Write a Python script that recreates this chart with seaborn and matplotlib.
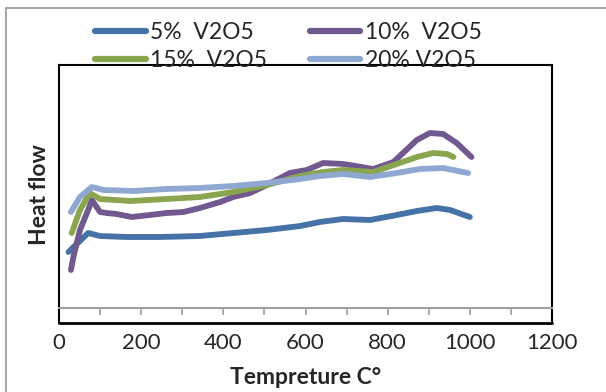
import pandas as pd
import seaborn as sns
import matplotlib.pyplot as plt
from matplotlib.lines import Line2D

# values (temperature in C, heat flow in arbitrary units)
t_5 = [23, 71, 100, 165, 246, 343, 424, 506, 587, 635, 691, 757, 822, 871, 919, 952, 1000]
h_5 = [56, 75, 72, 71, 71, 72, 75, 78, 82, 86, 89, 88, 93, 97, 100, 98, 91]

t_10 = [29, 35, 51, 71, 80, 100, 116, 140, 177, 221, 262, 303, 343, 392, 424, 465, 506,
        562, 603, 643, 692, 765, 814, 871, 903, 935, 968, 1004]
h_10 = [38, 51, 78, 98, 108, 96, 95, 94, 91, 93, 95, 96, 100, 106, 111, 115, 123,
        135, 138, 145, 144, 139, 146, 168, 175, 174, 165, 151]

t_15 = [31, 51, 75, 100, 173, 262, 343, 424, 506, 587, 643, 692, 765, 822, 871, 911, 944, 960]
h_15 = [75, 98, 115, 109, 107, 109, 111, 116, 123, 132, 136, 138, 136, 144, 151, 155, 154, 151]

t_20 = [29, 51, 80, 108, 181, 262, 343, 424, 506, 587, 635, 692, 757, 822, 879, 935, 996]
h_20 = [96, 111, 121, 118, 117, 119, 120, 122, 125, 129, 132, 134, 131, 135, 139, 140, 135]

labels = ['5%  V2O5', '10%  V2O5', '15%  V2O5', '20% V2O5']
colors = ['#4572A7', '#71588F', '#89A54E', '#8FA8D2']

frames = []
for lab, t, h in zip(labels, [t_5, t_10, t_15, t_20], [h_5, h_10, h_15, h_20]):
    frames.append(pd.DataFrame({'temp': t, 'heat': h, 'sample': lab}))
df = pd.concat(frames, ignore_index=True)

sns.set_theme(style='white')
plt.rcParams['font.family'] = ['Lato', 'DejaVu Sans']

fig = plt.figure(figsize=(6.06, 3.92), dpi=100)
ax = fig.add_axes([59 / 606, 69 / 392, 493 / 606, 258 / 392])

sns.lineplot(data=df, x='temp', y='heat', hue='sample', palette=dict(zip(labels, colors)),
             sort=False, estimator=None, linewidth=4.2, legend=False, ax=ax)
for ln in ax.get_lines():
    ln.set_solid_capstyle('round')
    ln.set_solid_joinstyle('round')

ax.set_xlim(0, 1200)
ax.set_ylim(-15, 243)
ax.set_xticks(range(0, 1201, 100))
ax.set_xticklabels([str(v) if v % 200 == 0 else '' for v in range(0, 1201, 100)])
ax.set_yticks([])
ax.set_xlabel('')
ax.set_ylabel('')

# black plot-area frame, grey category axis at zero
for s in ['left', 'right', 'top']:
    ax.spines[s].set_color('black')
    ax.spines[s].set_linewidth(1.5)
ax.spines['bottom'].set_position(('data', 0))
ax.spines['bottom'].set_color('#a0a0a0')
ax.spines['bottom'].set_linewidth(1.5)
ax.plot([0, 1], [0, 0], transform=ax.transAxes, color='black', lw=2, clip_on=False)
ax.tick_params(axis='x', direction='out', length=5, width=1.2, color='#a0a0a0',
               labelsize=16, pad=13, bottom=True)

fig.text(305.5 / 606, 1 - 378 / 392, 'Tempreture C°', ha='center', va='center',
         fontsize=16.5, fontweight='bold')
fig.text(40 / 606, 1 - 195 / 392, 'Heat flow', ha='center', va='center',
         rotation=90, fontsize=16.5, fontweight='bold')

# outer chart border
fig.add_artist(Line2D([6 / 606, 1], [1 - 8 / 392, 1 - 8 / 392], color='#a6a6a6', lw=1.5))
fig.add_artist(Line2D([6 / 606, 6 / 606], [0, 1 - 8 / 392], color='#a6a6a6', lw=1.5))

handles = [Line2D([], [], color=c, lw=4.5, solid_capstyle='round') for c in colors]
order = [0, 2, 1, 3]
fig.legend([handles[i] for i in order], [labels[i] for i in order], ncol=2,
           loc='upper left', bbox_to_anchor=(84 / 606, 1 - 11 / 392), frameon=False,
           fontsize=16.5, borderpad=0, handlelength=2.2, handletextpad=0.2,
           columnspacing=1.85, labelspacing=0.28)

plt.savefig('out.png', dpi=100)
